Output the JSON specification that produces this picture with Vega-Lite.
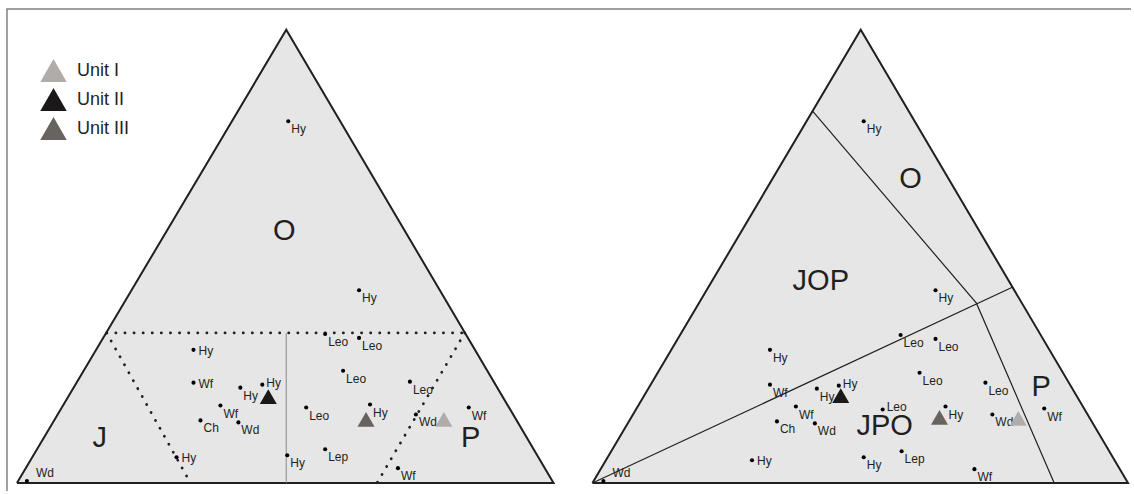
{
  "$schema": "https://vega.github.io/schema/vega-lite/v6.json",
  "width": 1134,
  "height": 494,
  "padding": 0,
  "autosize": {"type": "fit", "contains": "padding"},
  "background": "#ffffff",
  "config": {"view": {"stroke": null}, "text": {"font": "Liberation Sans", "color": "#231f20"}},
  "datasets": {
    "frame": [
      {"g": "f", "i": 0, "x": 7, "y": 494},
      {"g": "f", "i": 1, "x": 7, "y": 9},
      {"g": "f", "i": 2, "x": 1134, "y": 9}
    ],
    "tri": [
      {"g": "T1", "i": 0, "x": 17, "y": 486},
      {"g": "T1", "i": 1, "x": 287, "y": 30},
      {"g": "T1", "i": 2, "x": 555, "y": 486},
      {"g": "T1", "i": 3, "x": 17, "y": 486},
      {"g": "T2", "i": 0, "x": 594, "y": 486},
      {"g": "T2", "i": 1, "x": 863, "y": 30},
      {"g": "T2", "i": 2, "x": 1131, "y": 486},
      {"g": "T2", "i": 3, "x": 594, "y": 486}
    ],
    "dots": [
      {"g": "d1", "i": 0, "x": 107, "y": 335},
      {"g": "d1", "i": 1, "x": 466, "y": 335},
      {"g": "d2", "i": 0, "x": 107, "y": 335},
      {"g": "d2", "i": 1, "x": 191, "y": 486},
      {"g": "d3", "i": 0, "x": 466, "y": 335},
      {"g": "d3", "i": 1, "x": 378, "y": 486}
    ],
    "vline": [
      {"g": "v", "i": 0, "x": 287, "y": 335},
      {"g": "v", "i": 1, "x": 287, "y": 486}
    ],
    "seps": [
      {"g": "s1", "i": 0, "x": 594, "y": 486},
      {"g": "s1", "i": 1, "x": 1015, "y": 289},
      {"g": "s2", "i": 0, "x": 815, "y": 112},
      {"g": "s2", "i": 1, "x": 979, "y": 305},
      {"g": "s2", "i": 2, "x": 1057, "y": 486}
    ],
    "pts": [
      {"x": 289, "y": 122, "t": "Hy", "lab": "br"},
      {"x": 360, "y": 292, "t": "Hy", "lab": "br"},
      {"x": 194, "y": 352, "t": "Hy", "lab": "r"},
      {"x": 194, "y": 385, "t": "Wf", "lab": "r"},
      {"x": 241, "y": 390, "t": "Hy", "lab": "br"},
      {"x": 263, "y": 387, "t": "Hy", "lab": "ar"},
      {"x": 221, "y": 408, "t": "Wf", "lab": "br"},
      {"x": 201, "y": 423, "t": "Ch", "lab": "br"},
      {"x": 239, "y": 425, "t": "Wd", "lab": "br"},
      {"x": 177, "y": 460, "t": "Hy", "lab": "r"},
      {"x": 27, "y": 484, "t": "Wd", "lab": "ar2"},
      {"x": 288, "y": 458, "t": "Hy", "lab": "br"},
      {"x": 326, "y": 336, "t": "Leo", "lab": "br"},
      {"x": 360, "y": 340, "t": "Leo", "lab": "br"},
      {"x": 344, "y": 373, "t": "Leo", "lab": "br"},
      {"x": 371, "y": 407, "t": "Hy", "lab": "br"},
      {"x": 307, "y": 410, "t": "Leo", "lab": "br"},
      {"x": 326, "y": 452, "t": "Lep", "lab": "br"},
      {"x": 411, "y": 384, "t": "Leo", "lab": "br"},
      {"x": 417, "y": 417, "t": "Wd", "lab": "br"},
      {"x": 399, "y": 471, "t": "Wf", "lab": "br"},
      {"x": 470, "y": 410, "t": "Wf", "lab": "br"},
      {"x": 866, "y": 122, "t": "Hy", "lab": "br"},
      {"x": 938, "y": 292, "t": "Hy", "lab": "br"},
      {"x": 772, "y": 352, "t": "Hy", "lab": "br"},
      {"x": 772, "y": 387, "t": "Wf", "lab": "br"},
      {"x": 819, "y": 391, "t": "Hy", "lab": "br"},
      {"x": 841, "y": 388, "t": "Hy", "lab": "ar"},
      {"x": 798, "y": 409, "t": "Wf", "lab": "br"},
      {"x": 779, "y": 424, "t": "Ch", "lab": "br"},
      {"x": 817, "y": 426, "t": "Wd", "lab": "br"},
      {"x": 754, "y": 463, "t": "Hy", "lab": "r"},
      {"x": 605, "y": 484, "t": "Wd", "lab": "ar2"},
      {"x": 866, "y": 460, "t": "Hy", "lab": "br"},
      {"x": 903, "y": 337, "t": "Leo", "lab": "br"},
      {"x": 938, "y": 341, "t": "Leo", "lab": "br"},
      {"x": 922, "y": 375, "t": "Leo", "lab": "br"},
      {"x": 948, "y": 409, "t": "Hy", "lab": "br"},
      {"x": 885, "y": 412, "t": "Leo", "lab": "ar"},
      {"x": 904, "y": 454, "t": "Lep", "lab": "br"},
      {"x": 988, "y": 385, "t": "Leo", "lab": "br"},
      {"x": 995, "y": 417, "t": "Wd", "lab": "br"},
      {"x": 977, "y": 472, "t": "Wf", "lab": "br"},
      {"x": 1047, "y": 411, "t": "Wf", "lab": "br"}
    ],
    "regions": [
      {"x": 285, "y": 241, "t": "O"},
      {"x": 100, "y": 450, "t": "J"},
      {"x": 472, "y": 450, "t": "P"},
      {"x": 913, "y": 189, "t": "O"},
      {"x": 823, "y": 292, "t": "JOP"},
      {"x": 887, "y": 438, "t": "JPO"},
      {"x": 1044, "y": 398, "t": "P"}
    ],
    "units": [
      {"x": 445, "y": 422, "unit": "Unit I"},
      {"x": 269, "y": 399, "unit": "Unit II"},
      {"x": 367, "y": 422, "unit": "Unit III"},
      {"x": 1021, "y": 421, "unit": "Unit I"},
      {"x": 843, "y": 398, "unit": "Unit II"},
      {"x": 942, "y": 420, "unit": "Unit III"}
    ]
  },
  "encoding": {
    "x": {"field": "x", "type": "quantitative", "scale": {"domain": [0, 1134], "nice": false, "zero": false}, "axis": null},
    "y": {"field": "y", "type": "quantitative", "scale": {"domain": [0, 494], "nice": false, "zero": false, "reverse": true}, "axis": null}
  },
  "layer": [
    {
      "data": {"name": "frame"},
      "mark": {"type": "line", "stroke": "#808080", "strokeWidth": 1.5},
      "encoding": {"order": {"field": "i", "type": "quantitative"}, "detail": {"field": "g"}}
    },
    {
      "data": {"name": "tri"},
      "mark": {"type": "line", "fill": "#e6e6e6", "stroke": "#231f20", "strokeWidth": 2, "strokeJoin": "miter"},
      "encoding": {"order": {"field": "i", "type": "quantitative"}, "detail": {"field": "g"}}
    },
    {
      "data": {"name": "vline"},
      "mark": {"type": "line", "stroke": "#8a8a8a", "strokeWidth": 1},
      "encoding": {"order": {"field": "i", "type": "quantitative"}, "detail": {"field": "g"}}
    },
    {
      "data": {"name": "dots"},
      "mark": {"type": "line", "stroke": "#231f20", "strokeWidth": 2.8, "strokeCap": "round", "strokeDash": [0.1, 9]},
      "encoding": {"order": {"field": "i", "type": "quantitative"}, "detail": {"field": "g"}}
    },
    {
      "data": {"name": "seps"},
      "mark": {"type": "line", "stroke": "#231f20", "strokeWidth": 1.2},
      "encoding": {"order": {"field": "i", "type": "quantitative"}, "detail": {"field": "g"}}
    },
    {
      "data": {"name": "regions"},
      "mark": {"type": "text", "fontSize": 29, "align": "center", "baseline": "alphabetic"},
      "encoding": {"text": {"field": "t"}}
    },
    {
      "data": {"name": "pts"},
      "mark": {"type": "point", "shape": "circle", "filled": true, "size": 17, "color": "#000000", "opacity": 1},
      "encoding": {}
    },
    {
      "data": {"name": "pts"},
      "transform": [{"filter": "datum.lab === 'br'"}],
      "mark": {"type": "text", "fontSize": 12, "align": "left", "baseline": "alphabetic", "dx": 3, "dy": 12},
      "encoding": {"text": {"field": "t"}}
    },
    {
      "data": {"name": "pts"},
      "transform": [{"filter": "datum.lab === 'r'"}],
      "mark": {"type": "text", "fontSize": 12, "align": "left", "baseline": "alphabetic", "dx": 5, "dy": 5},
      "encoding": {"text": {"field": "t"}}
    },
    {
      "data": {"name": "pts"},
      "transform": [{"filter": "datum.lab === 'ar'"}],
      "mark": {"type": "text", "fontSize": 12, "align": "left", "baseline": "alphabetic", "dx": 4, "dy": 2},
      "encoding": {"text": {"field": "t"}}
    },
    {
      "data": {"name": "pts"},
      "transform": [{"filter": "datum.lab === 'ar2'"}],
      "mark": {"type": "text", "fontSize": 12, "align": "left", "baseline": "alphabetic", "dx": 9, "dy": -4},
      "encoding": {"text": {"field": "t"}}
    },
    {
      "data": {"name": "units"},
      "mark": {"type": "point", "shape": "triangle-up", "filled": true, "size": 290, "opacity": 1},
      "encoding": {
        "color": {
          "field": "unit",
          "type": "nominal",
          "scale": {"domain": ["Unit I", "Unit II", "Unit III"], "range": ["#b0ada8", "#1b1819", "#67635e"]},
          "legend": {
            "orient": "none",
            "legendX": 40,
            "legendY": 57,
            "title": null,
            "padding": 0,
            "symbolType": "triangle-up",
            "symbolSize": 700,
            "symbolStrokeWidth": 0,
            "symbolOpacity": 1,
            "labelFont": "Liberation Sans",
            "labelFontSize": 18,
            "labelColor": "#231f20",
            "labelOffset": 10,
            "rowPadding": 4
          }
        }
      }
    }
  ]
}
